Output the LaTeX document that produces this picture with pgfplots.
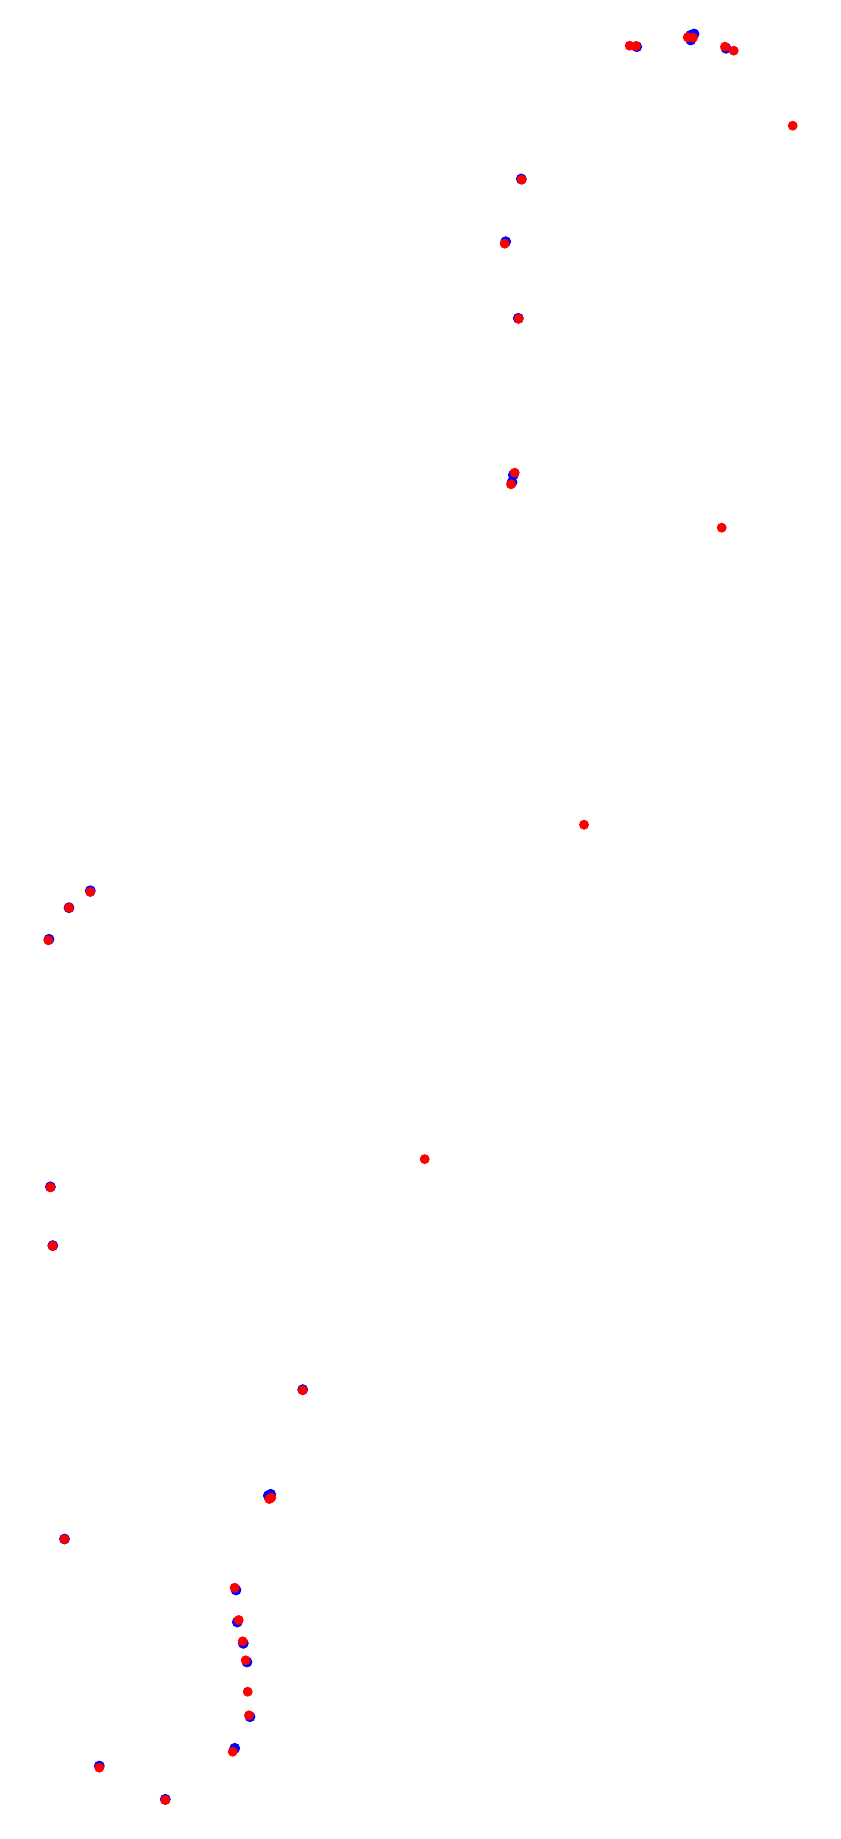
\documentclass[border=0pt]{standalone}
\usepackage{pgfplots}
\pgfplotsset{compat=1.18}

\begin{document}
\begin{tikzpicture}
  \begin{axis}[
    scale only axis,
    width=420pt,
    height=919.5pt,
    xmin=0, xmax=840,
    ymin=0, ymax=1839,
    y dir=reverse,
    ticks=none,
    axis line style={draw=none},
    clip=false,
  ]
  % blue series (drawn underneath)
  \addplot[only marks, mark=*, mark size=2.5pt, color=blue, mark options={draw=blue, fill=blue}] coordinates {
    (636.7,46.7) (690.7,35.3) (694,34) (690.7,40) (726,48.3)
    (521.3,179) (505.7,241.7) (518.3,318.3) (513.3,475) (512,482.3)
    (90.3,890.7) (69,907.7) (49,939.3) (50.4,1186.8) (52.8,1245.6)
    (302.7,1389.6) (270.7,1494.3) (268.3,1495.7) (64.5,1539)
    (236,1590) (237.3,1622) (243.3,1643.3) (247,1662) (250,1716.7)
    (234.7,1748.3) (99.3,1766) (165.3,1799.3)
  };
  % red series
  \addplot[only marks, mark=*, mark size=2.25pt, color=red, mark options={draw=red, fill=red}] coordinates {
    (629.7,45.7) (636,46) (687.7,37.3) (693,37.7) (725,46.7) (733.7,50.7)
    (792.7,125.7) (521.7,179.7) (504.7,243.7) (518.7,318.7) (514.7,472.7)
    (511,484.3) (721.7,527.7) (584,824.7) (90.3,892) (69,907.7) (48.3,940.3)
    (424.7,1159.1) (50.4,1187.3) (52.8,1246) (302.7,1390.2) (269.3,1499)
    (271.3,1497.7) (64.5,1539.2) (234.7,1587.7) (238.7,1620) (242.7,1641.3)
    (245.7,1660.3) (247.7,1691.7) (249,1715.3) (232.7,1751.7) (99.3,1767.7)
    (165.3,1800)
  };
  \end{axis}
\end{tikzpicture}
\end{document}
